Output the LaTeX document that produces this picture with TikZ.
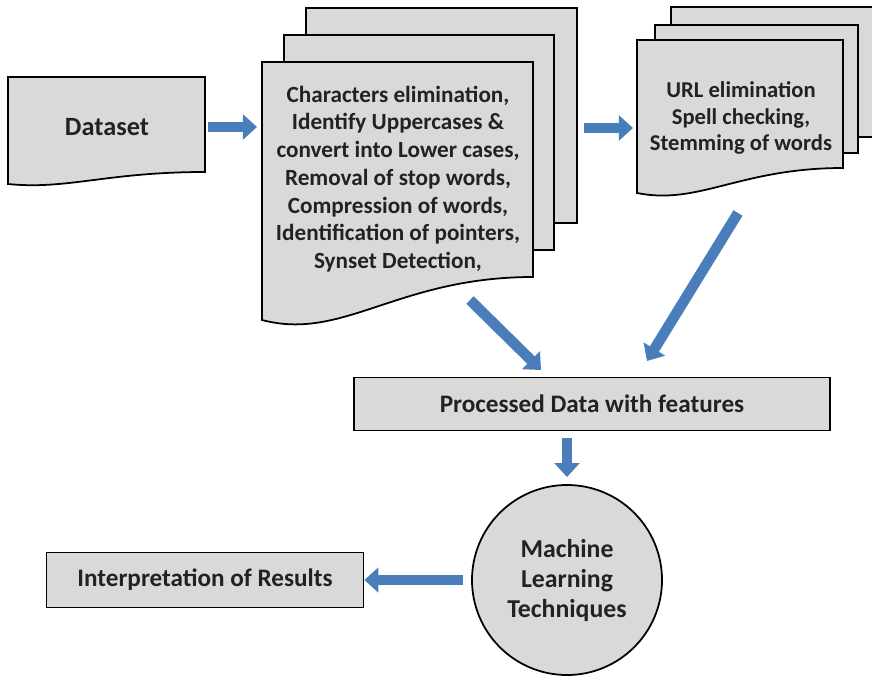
\documentclass[tikz,border=0pt]{standalone}
\usepackage{fontspec}
\setmainfont{Carlito}
\usetikzlibrary{arrows.meta}
\definecolor{boxgray}{RGB}{217,217,217}
\definecolor{arrowblue}{RGB}{74,126,187}
\definecolor{inkgray}{RGB}{34,34,34}
\tikzset{
  docstyle/.style={draw=black,line width=1.5pt,fill=boxgray},
  doctext/.style={align=center,text=inkgray,font=\bfseries\fontsize{19.8}{23.7}\selectfont},
  boxstyle/.style={draw=black,line width=1.5pt,fill=boxgray,text=inkgray,font=\bfseries\fontsize{21.5}{24}\selectfont},
  bluearrow/.style={draw=arrowblue,line width=9pt,-{Triangle[width=21pt,length=12pt]}}
}
% document shape: left, top, right, bottom-left y, bottom-right y
\newcommand{\docpath}[5]{%
  \filldraw[docstyle] (#1,#2) -- (#3,#2) -- (#3,#5)
    .. controls ({#1+0.5*(#3-#1)},#5) and ({#1+0.3*(#3-#1)},{#4+0.5*(#4-#5)}) .. (#1,#4) -- cycle;}
\begin{document}
\begin{tikzpicture}[x=0.03cm,y=-0.03cm]
\useasboundingbox (0,0) rectangle (872,678);
% Dataset
\docpath{8}{77}{205}{184}{172}
\node[doctext,font=\bfseries\fontsize{22.5}{24}\selectfont] (dataset) at (107,127) {Dataset};
% First stack of pages
\filldraw[docstyle] (306,8) rectangle (577,223);
\filldraw[docstyle] (284,35) rectangle (554,250);
\docpath{262}{62}{533}{320}{277}
\node[doctext] (clean) at (398,179) {Characters elimination,\\Identify Uppercases \&\\convert into Lower cases,\\Removal of stop words,\\Compression of words,\\Identification of pointers,\\Synset Detection,};
% Second stack of pages
\filldraw[docstyle] (671,7) rectangle (890,137);
\filldraw[docstyle] (655,25) rectangle (858,153);
\docpath{637}{40}{843}{193}{168}
\node[doctext,font=\bfseries\fontsize{19.3}{23}\selectfont] (spell) at (741,118) {URL elimination\\Spell checking,\\Stemming of words};
% Processed data, learning and results
\node[boxstyle,minimum width=14.28cm,minimum height=1.59cm] (proc) at (592,404) {Processed Data with features};
\node[boxstyle,circle,minimum size=5.7cm,align=center,font=\bfseries\fontsize{22}{25.6}\selectfont] (ml) at (567,580) {Machine\\Learning\\Techniques};
\node[boxstyle,minimum width=9.51cm,minimum height=1.65cm] (interp) at (205,580) {Interpretation of Results};
% Arrow end points
\coordinate (a1) at (208,127);
\coordinate (a2) at (257,127);
\coordinate (b1) at (584,128);
\coordinate (b2) at (633,128);
\coordinate (c1) at (470,300);
\coordinate (c2) at (541,370);
\coordinate (e1) at (738,213);
\coordinate (e2) at (647,361);
% Arrows
\draw[bluearrow] (a1) -- (a2);
\draw[bluearrow] (b1) -- (b2);
\draw[bluearrow] (c1) -- (c2);
\draw[bluearrow] (e1) -- (e2);
\draw[bluearrow,shorten <=6pt,shorten >=6pt] (proc.south -| ml.north) -- (ml.north);
\draw[bluearrow,shorten <=7pt] (ml.west) -- (interp.east);
\end{tikzpicture}
\end{document}
